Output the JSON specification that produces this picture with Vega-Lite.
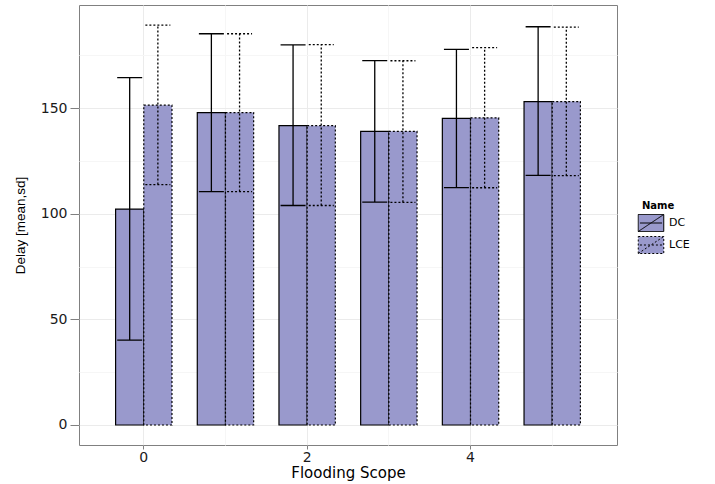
{
  "$schema": "https://vega.github.io/schema/vega-lite/v6.json",
  "width": 538,
  "height": 440,
  "autosize": {"type": "none"},
  "padding": {"left": 79, "top": 5, "right": 98, "bottom": 39},
  "background": "white",
  "config": {
    "view": {"stroke": "#808080", "strokeWidth": 1},
    "axis": {"domain": false, "tickColor": "#808080", "labelColor": "#1a1a1a", "titleColor": "#000000", "titleFontWeight": "normal"}
  },
  "data": {
    "values": [
      {"scope": 0, "Name": "DC", "mean": 102.2, "lo": 40.2, "hi": 164.4},
      {"scope": 0, "Name": "LCE", "mean": 151.4, "lo": 113.8, "hi": 189.3},
      {"scope": 1, "Name": "DC", "mean": 147.9, "lo": 110.5, "hi": 185.2},
      {"scope": 1, "Name": "LCE", "mean": 147.9, "lo": 110.5, "hi": 185.2},
      {"scope": 2, "Name": "DC", "mean": 141.7, "lo": 103.9, "hi": 179.9},
      {"scope": 2, "Name": "LCE", "mean": 141.7, "lo": 103.9, "hi": 180.0},
      {"scope": 3, "Name": "DC", "mean": 139.0, "lo": 105.5, "hi": 172.5},
      {"scope": 3, "Name": "LCE", "mean": 139.0, "lo": 105.4, "hi": 172.4},
      {"scope": 4, "Name": "DC", "mean": 145.1, "lo": 112.4, "hi": 177.8},
      {"scope": 4, "Name": "LCE", "mean": 145.4, "lo": 112.3, "hi": 178.6},
      {"scope": 5, "Name": "DC", "mean": 153.1, "lo": 118.2, "hi": 188.5},
      {"scope": 5, "Name": "LCE", "mean": 153.1, "lo": 118.0, "hi": 188.3}
    ]
  },
  "encoding": {
    "x": {
      "field": "scope",
      "type": "ordinal",
      "scale": {"type": "band", "paddingInner": 0.31, "paddingOuter": 0.448},
      "axis": {
        "title": "Flooding Scope",
        "titleFont": "DejaVu Sans",
        "titleFontSize": 15,
        "titlePadding": 1,
        "labelFont": "DejaVu Sans",
        "labelFontSize": 14,
        "labelAngle": 0,
        "labelPadding": 1,
        "tickSize": 4,
        "labelExpr": "datum.value % 2 == 0 ? datum.label : ''",
        "tickOpacity": {"condition": {"test": "datum.value % 2 != 0", "value": 0}, "value": 1},
        "gridColor": {"condition": {"test": "datum.value % 2 == 0", "value": "#ebebeb"}, "value": "#f6f6f6"},
        "grid": true
      }
    },
    "xOffset": {"field": "Name", "type": "nominal"}
  },
  "layer": [
    {
      "mark": {"type": "bar", "fill": "#9999CC", "strokeWidth": 1.2, "fillOpacity": 1},
      "encoding": {
        "y": {
          "field": "mean",
          "type": "quantitative",
          "scale": {"domain": [-9.47, 198.8], "nice": false, "zero": false},
          "axis": {
            "title": "Delay [mean,sd]",
            "titleFont": "Liberation Sans",
            "titleFontSize": 13.5,
            "titleX": -52,
            "labelFont": "DejaVu Sans",
            "labelFontSize": 14,
            "labelPadding": 3,
            "tickSize": 9,
            "values": [0, 25, 50, 75, 100, 125, 150, 175],
            "labelExpr": "datum.value % 50 == 0 ? datum.label : ''",
            "tickOpacity": {"condition": {"test": "datum.value % 50 != 0", "value": 0}, "value": 1},
            "gridColor": {"condition": {"test": "datum.value % 50 == 0", "value": "#ebebeb"}, "value": "#f6f6f6"},
            "grid": true
          }
        },
        "stroke": {
          "field": "Name",
          "type": "nominal",
          "scale": {"domain": ["DC", "LCE"], "range": ["black", "black"]},
          "legend": {
            "title": "Name",
            "orient": "none",
            "legendX": 563,
            "legendY": 196,
            "padding": 0,
            "titleFont": "DejaVu Sans",
            "titleFontSize": 10,
            "titleFontWeight": "bold",
            "titleColor": "black",
            "titlePadding": 3,
            "labelFont": "DejaVu Sans",
            "labelFontSize": 11,
            "labelColor": "black",
            "symbolType": "M-1.5,-1H1.5V1H-1.5Z M-1.3,0H1.3 M-1.5,1L1.5,-1",
            "symbolSize": 289,
            "symbolFillColor": "#9999CC",
            "symbolStrokeWidth": 1,
            "symbolOpacity": 1,
            "rowPadding": 0,
            "labelOffset": 9,
            "encode": {
              "symbols": {
                "update": {
                  "fill": {"value": "#9999CC"},
                  "strokeWidth": {"value": 1},
                  "opacity": {"value": 1}
                }
              }
            }
          }
        },
        "strokeDash": {
          "field": "Name",
          "type": "nominal",
          "scale": {"domain": ["DC", "LCE"], "range": [[1, 0], [2, 2]]}
        }
      }
    },
    {
      "mark": {"type": "rule", "stroke": "black", "strokeWidth": 1.3},
      "encoding": {
        "y": {"field": "lo", "type": "quantitative"},
        "y2": {"field": "hi"},
        "strokeDash": {"field": "Name", "type": "nominal", "legend": null}
      }
    },
    {
      "mark": {"type": "point", "shape": "M-1,0H1", "size": 625, "filled": false, "stroke": "black", "strokeWidth": 1.3, "opacity": 1},
      "encoding": {
        "y": {"field": "hi", "type": "quantitative"},
        "strokeDash": {"field": "Name", "type": "nominal", "legend": null}
      }
    },
    {
      "mark": {"type": "point", "shape": "M-1,0H1", "size": 625, "filled": false, "stroke": "black", "strokeWidth": 1.3, "opacity": 1},
      "encoding": {
        "y": {"field": "lo", "type": "quantitative"},
        "strokeDash": {"field": "Name", "type": "nominal", "legend": null}
      }
    }
  ]
}
